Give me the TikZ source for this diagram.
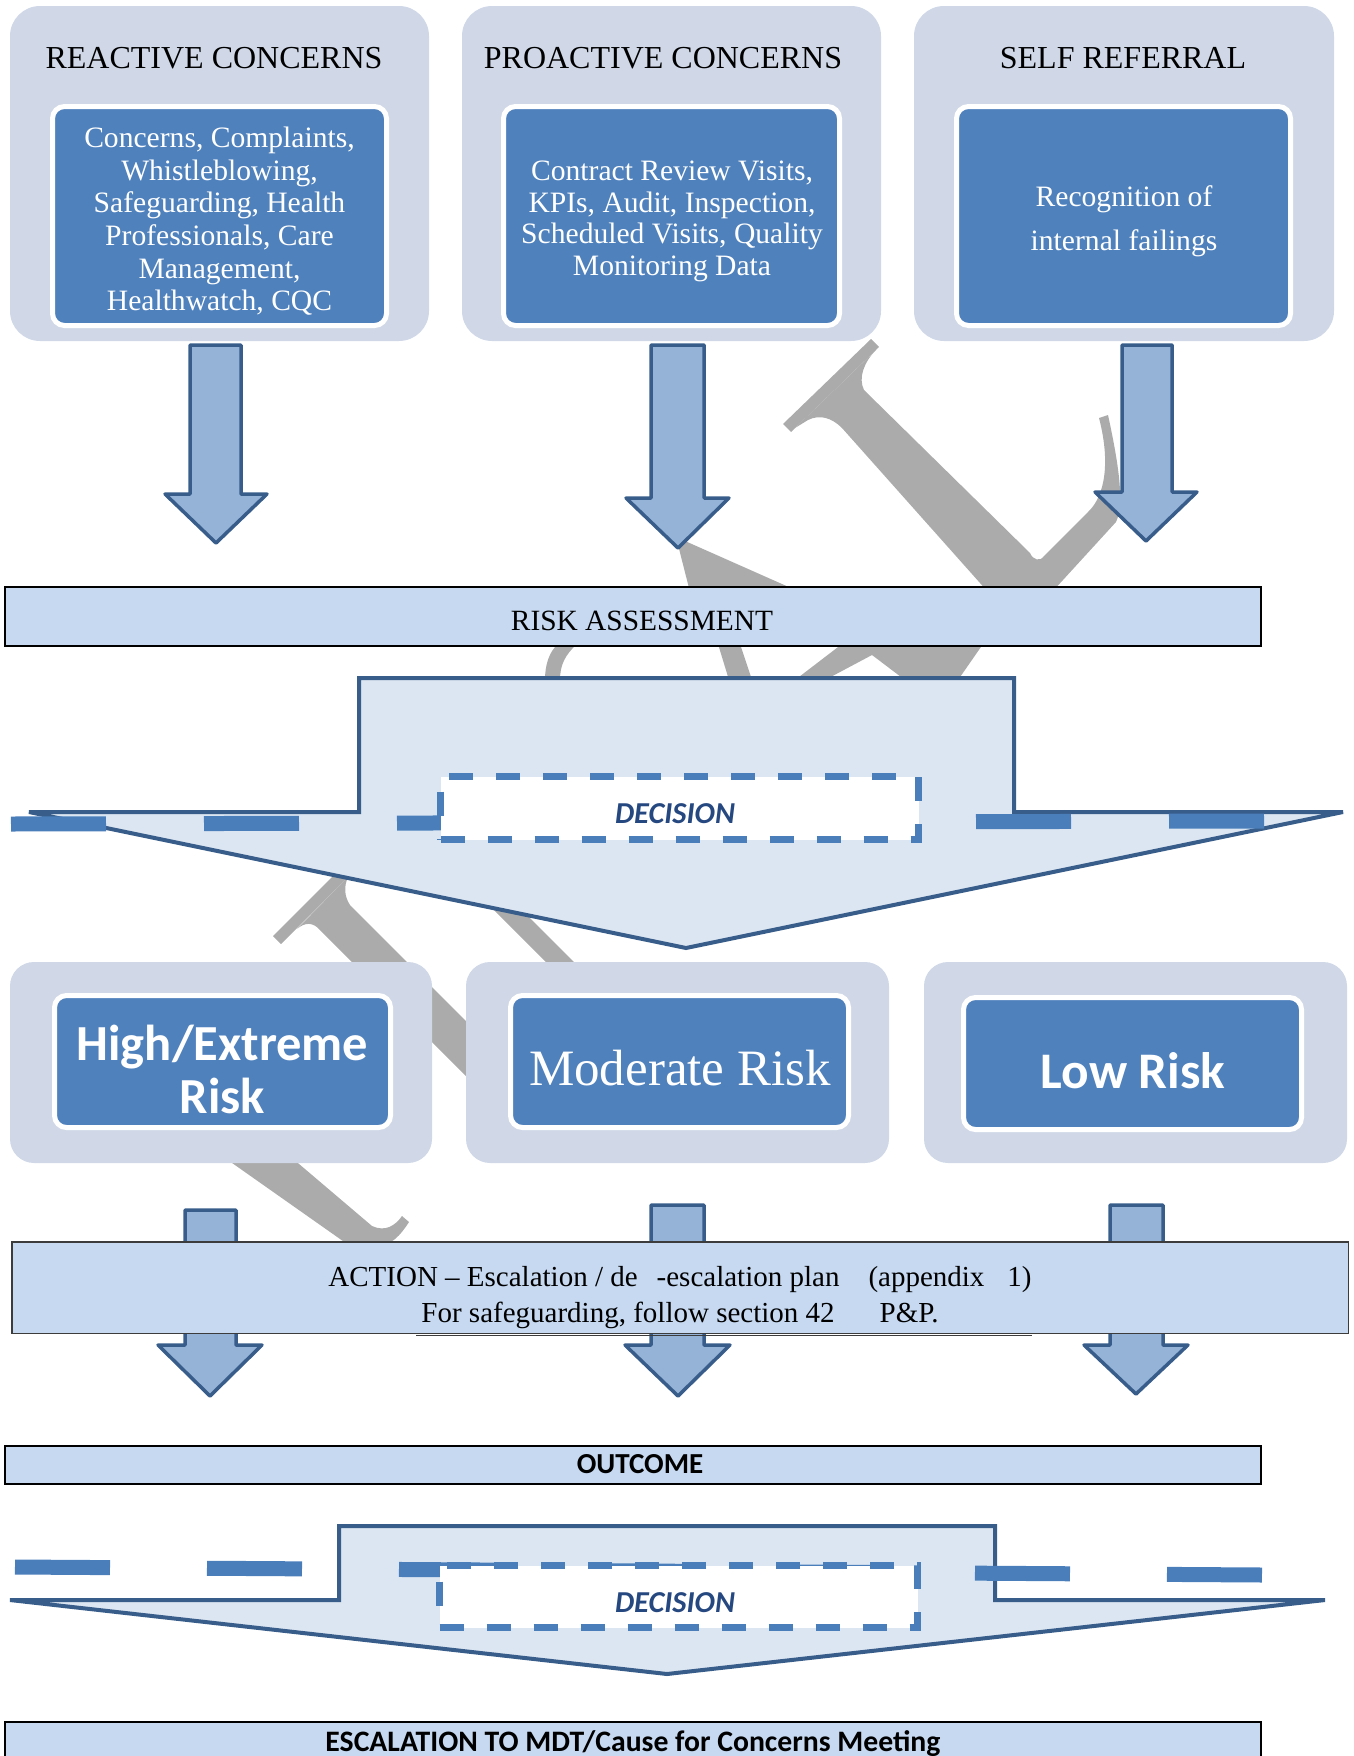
\documentclass[tikz,border=0pt]{standalone}
\usepackage{fontspec}
\setmainfont{Liberation Serif}
\newfontfamily\calib{Carlito}
\definecolor{contbg}{RGB}{208,216,232}
\definecolor{innerblue}{RGB}{79,129,189}
\definecolor{arrowfill}{RGB}{149,179,215}
\definecolor{arrowline}{RGB}{56,93,138}
\definecolor{barfill}{RGB}{198,217,241}
\definecolor{decfill}{RGB}{220,230,242}
\definecolor{dashblue}{RGB}{74,126,187}
\definecolor{dectext}{RGB}{38,72,128}
\definecolor{wmgrey}{RGB}{171,171,171}
\definecolor{actionborder}{RGB}{60,60,60}
\newcommand\bArrow[8]{\path[blockarrow] (#1,#3) -- (#1,#4) -- (#5,#4) -- (#7,#8) -- (#6,#4) -- (#2,#4) -- (#2,#3) -- cycle;}
\begin{document}
\begin{tikzpicture}[x=1pt,y=-1pt,
  every node/.style={inner sep=0pt, outer sep=0pt},
  container/.style={fill=contbg, rounded corners=30pt},
  container2/.style={fill=contbg, rounded corners=24pt},
  innerbox/.style={fill=innerblue, draw=white, line width=5pt, rounded corners=12pt},
  blockarrow/.style={fill=arrowfill, draw=arrowline, line width=3.5pt, line join=round},
  bar/.style={fill=barfill, draw=black, line width=2pt},
  actionbar/.style={fill=barfill, draw=actionborder, line width=1.5pt},
  decarrow/.style={fill=decfill, draw=arrowline, line width=4pt, line join=miter, miter limit=3},
  dashline/.style={draw=dashblue, line width=15pt, dash pattern=on 95pt off 98pt},
  decbox/.style={fill=white, draw=dashblue, line width=7pt, dash pattern=on 24pt off 23pt},
  wm/.style={fill=wmgrey, draw=none},
  title/.style={font=\fontsize{32}{36}\selectfont, anchor=base},
  bodytext/.style={font=\fontsize{29.6}{32.6}\selectfont, text=white, align=center},
  bartext/.style={font=\fontsize{29.4}{32}\selectfont, anchor=base},
  caltext/.style={font=\calib\bfseries\fontsize{29}{32}\selectfont, anchor=base},
  dectxt/.style={font=\calib\bfseries\itshape\fontsize{30.4}{32}\selectfont, text=dectext, anchor=base},
]
\useasboundingbox (0,0) rectangle (1354,1756);
\clip (0,0) rectangle (1354,1756);

% ---------- watermark fragments ----------
\path[wm] (783,424) -- (871,339) -- (879,347) -- (791,432) -- cycle;
\path[wm] (808,420) .. controls (820,414) and (832,418) .. (842,428) -- (988,592) -- (1052,592)
  -- (1116,522) .. controls (1124,505) and (1120,470) .. (1108,415) -- (1099,418)
  .. controls (1110,460) and (1106,495) .. (1088,512) -- (1044,556)
  .. controls (1040,562) and (1033,560) .. (1030,553) -- (864,390)
  .. controls (858,378) and (864,362) .. (876,350) -- (795,428) -- cycle;
\path[wm] (676,537) -- (800,592) -- (690,592) -- cycle;
\path[wm] (558,644) -- (577,644) .. controls (565,655) and (560,665) .. (560,680) -- (545,680) .. controls (545,665) and (549,652) .. (558,644) -- cycle;
\path[wm] (718,644) -- (740,644) -- (752,680) -- (729,680) -- cycle;
\path[wm] (795,680) -- (842,644) -- (983,644) -- (958,680) -- (905,680) -- (872,655) -- (825,680) -- cycle;
\path[wm] (273,936) -- (340,869) -- (348,877) -- (281,944) -- cycle;
\path[wm] (297,929) .. controls (305,922) and (313,922) .. (320,930) -- (545,1155) -- (545,1100) -- (350,905)
  .. controls (344,896) and (344,886) .. (348,877) -- cycle;
\path[wm] (484,900) -- (512,900) -- (578,966) -- (550,966) -- cycle;
\path[wm] (225,1158) -- (292,1158) -- (372,1226) .. controls (385,1232) and (395,1226) .. (402,1216)
  -- (409,1222) .. controls (400,1236) and (392,1244) .. (380,1246) -- (350,1246) -- cycle;

% ---------- top containers ----------
\node[container, minimum width=419pt, minimum height=335pt, anchor=north west] (reactive) at (10,6) {};
\node[container, minimum width=419pt, minimum height=335pt, anchor=north west] (proactive) at (462,6) {};
\node[container, minimum width=420pt, minimum height=335pt, anchor=north west] (selfref) at (914,6) {};

\node[title] (reactivetitle) at (214,68) {REACTIVE CONCERNS};
\node[title] (proactivetitle) at (663,68) {PROACTIVE CONCERNS};
\node[title] (selftitle) at (1123,68) {SELF REFERRAL};

\node[innerbox, minimum width=334pt, minimum height=219pt] (reactivebox) at (219.5,216) {};
\node[innerbox, minimum width=336pt, minimum height=219pt] (proactivebox) at (671.5,216) {};
\node[innerbox, minimum width=334pt, minimum height=219pt] (selfbox) at (1123.5,216) {};

\node[bodytext] (reactivetext) at (219.5,221.3) {Concerns, Complaints,\\Whistleblowing,\\Safeguarding, Health\\Professionals, Care\\Management,\\Healthwatch, CQC};
\node[bodytext, font=\fontsize{29.6}{31.8}\selectfont] (proactivetext) at (672,221.3) {Contract Review Visits,\\KPIs, Audit, Inspection,\\Scheduled Visits, Quality\\Monitoring Data};
\node[bodytext, font=\fontsize{29.6}{43.6}\selectfont] (selftext) at (1124,221.3) {Recognition of\\internal failings};

% ---------- top arrows ----------
\bArrow{190}{241}{345}{494}{165}{267}{216}{543}
\bArrow{651}{704}{345}{498}{626}{729}{678}{548}
\bArrow{1122}{1172}{345}{492}{1095}{1197}{1146}{541}

% ---------- risk assessment ----------
\node[bar, minimum width=1256pt, minimum height=59pt, anchor=north west] (risk) at (5,587) {};
\node[bartext] (risklabel) at (642,630) {RISK ASSESSMENT};

% ---------- decision 1 ----------
\path[decarrow] (359,678) -- (1014,678) -- (1014,812) -- (1343,812) -- (686,948) -- (29,812) -- (359,812) -- cycle;
\draw[dashline] (11,824) -- (1264,821);
\node[decbox, minimum width=478pt, minimum height=63pt] (decision1) at (679.5,808) {};
\node[dectxt] (decision1label) at (675,823.5) {DECISION};

% ---------- risk level containers ----------
\node[container2, minimum width=422pt, minimum height=201pt, anchor=north west] (highc) at (10,962) {};
\node[container2, minimum width=423pt, minimum height=201pt, anchor=north west] (modc) at (466,962) {};
\node[container2, minimum width=423pt, minimum height=201pt, anchor=north west] (lowc) at (924,962) {};

\node[innerbox, minimum width=336pt, minimum height=132pt] (highbox) at (222.5,1061.5) {};
\node[innerbox, minimum width=338pt, minimum height=132pt] (modbox) at (679.5,1061.5) {};
\node[innerbox, minimum width=338pt, minimum height=132pt] (lowbox) at (1132.5,1063.5) {};

\node[font=\calib\bfseries\fontsize{50.5}{53}\selectfont, text=white, align=center] (hightext) at (222.5,1069) {High/Extreme\\Risk};
\node[font=\fontsize{51}{54}\selectfont, text=white, anchor=base] (modtext) at (680,1085) {Moderate Risk};
\node[font=\calib\bfseries\fontsize{51.3}{54}\selectfont, text=white, anchor=base] (lowtext) at (1133,1088) {Low Risk};

% ---------- lower arrows ----------
\bArrow{185}{236}{1210}{1345}{158}{262}{210}{1396}
\bArrow{651}{704}{1205}{1345}{625}{730}{678}{1396}
\bArrow{1110}{1163}{1205}{1345}{1084}{1188}{1136}{1394}

% ---------- action bar ----------
\node[actionbar, minimum width=1336.5pt, minimum height=91.5pt, anchor=north west] (action) at (11.75,1241.75) {};
\draw[draw=actionborder, line width=1.5pt] (416,1335.5) -- (1032,1335.5);
\node[font=\fontsize{29}{36}\selectfont, align=center] (actiontext) at (680,1298) {ACTION -- Escalation / de\hspace*{19pt}-escalation plan\hspace*{29pt}(appendix\hspace*{23pt}1)\\For safeguarding, follow section 42\hspace*{45pt}P\&P.};

% ---------- outcome ----------
\node[bar, minimum width=1256pt, minimum height=38pt, anchor=north west] (outcome) at (5,1446) {};
\node[caltext] (outcomelabel) at (640,1473) {OUTCOME};

% ---------- decision 2 ----------
\path[decarrow] (339,1526) -- (995,1526) -- (995,1600) -- (1325,1600) -- (667,1674) -- (10,1600) -- (339,1600) -- cycle;
\draw[dashline, dash pattern=on 95pt off 97pt] (15,1567) -- (1263,1575);
\node[decbox, minimum width=478pt, minimum height=62pt] (decision2) at (678.5,1596.5) {};
\node[dectxt] (decision2label) at (675,1612) {DECISION};

% ---------- escalation ----------
\node[bar, minimum width=1256pt, minimum height=58pt, anchor=north west] (escalation) at (5,1722) {};
\node[caltext, font=\calib\bfseries\fontsize{29.7}{32}\selectfont] (escalationlabel) at (633,1751) {ESCALATION TO MDT/Cause for Concerns Meeting};
\end{tikzpicture}
\end{document}
